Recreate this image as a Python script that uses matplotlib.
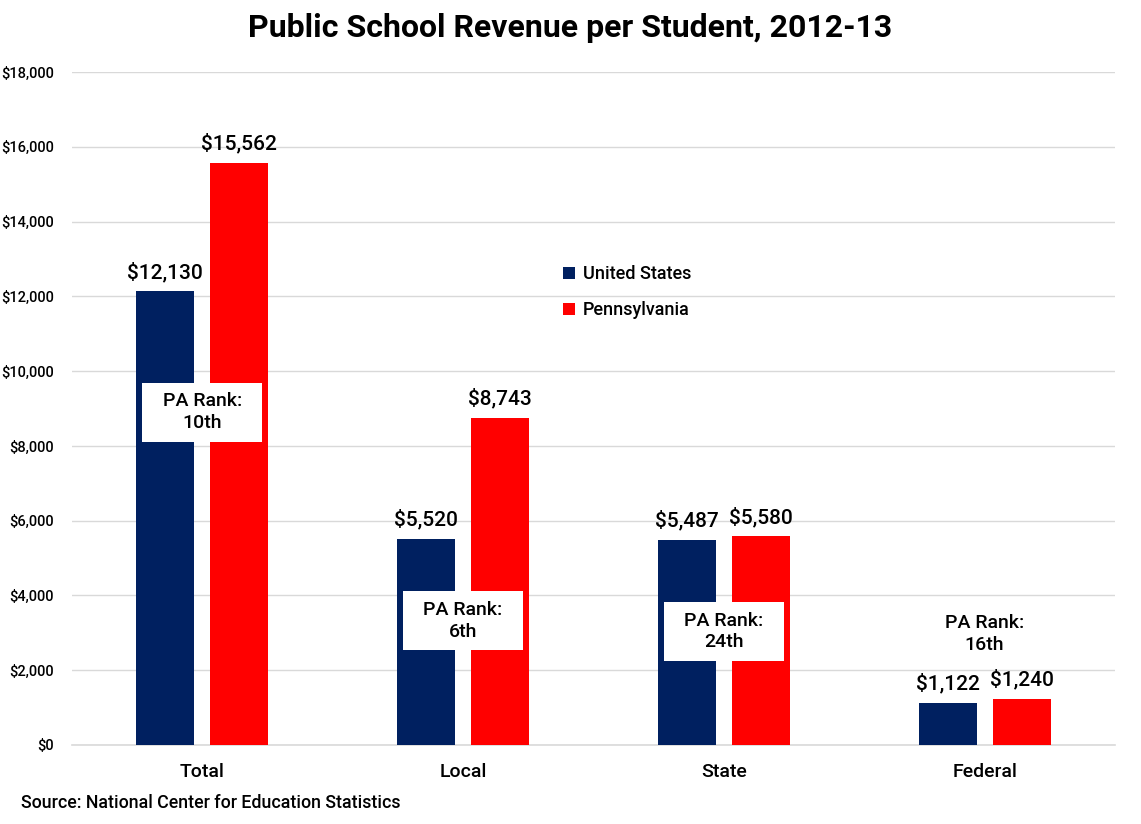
import matplotlib.pyplot as plt
from matplotlib.patches import Rectangle
import numpy as np

categories = ["Total", "Local", "State", "Federal"]
us_values = [12130, 5520, 5487, 1122]
pa_values = [15562, 8743, 5580, 1240]
pa_ranks = ["10th", "6th", "24th", "16th"]
rank_y = [8900, 3320, 3035, 2970]
rank_boxed = [True, True, True, False]
yticks = list(range(0, 18001, 2000))

NAVY = "#002060"
RED = "#ff0000"
BODY = ["Roboto", "DejaVu Sans"]
plt.rcParams["font.weight"] = "medium"

fig = plt.figure(figsize=(11.41, 8.24), dpi=100)
ax = fig.add_axes([0.0631, 0.0959, 0.9141, 0.8167])

x = np.arange(len(categories)) + 0.5
w = 0.222
off = 0.142
ax.bar(x - off, us_values, w, color=NAVY, label="United States", zorder=3)
ax.bar(x + off, pa_values, w, color=RED, label="Pennsylvania", zorder=3)

for xi, u, p in zip(x, us_values, pa_values):
    ax.text(xi - off, u + 250, f"${u:,}", ha="center", va="bottom",
            fontsize=15, family=BODY, zorder=4)
    ax.text(xi + off, p + 250, f"${p:,}", ha="center", va="bottom",
            fontsize=15, family=BODY, zorder=4)

# white boxes behind the rank notes
box_w, box_h = 0.46, 1580
for xi, ry, rank, boxed in zip(x, rank_y, pa_ranks, rank_boxed):
    if boxed:
        ax.add_patch(Rectangle((xi - box_w / 2, ry - box_h / 2), box_w, box_h,
                               fc="white", ec="none", zorder=5))
    ax.text(xi, ry, f"PA Rank:\n{rank}", ha="center", va="center",
            fontsize=14, family=BODY, linespacing=1.25, zorder=6)

ax.set_xlim(0, 4)
ax.set_ylim(0, 18000)
ax.set_yticks(yticks)
ax.set_yticklabels([f"${v:,}" for v in yticks], family=BODY, fontsize=10.5)
ax.set_xticks(x)
ax.set_xticklabels(categories, family=BODY, fontsize=14)
ax.tick_params(axis="both", length=0)
ax.tick_params(axis="y", pad=13)
ax.tick_params(axis="x", pad=13)

ax.grid(axis="y", color="#d9d9d9", linewidth=1, zorder=0)
ax.axhline(0, color="#d9d9d9", linewidth=1.2, zorder=2, clip_on=False)
for s in ax.spines.values():
    s.set_visible(False)

ax.legend(loc="upper left", bbox_to_anchor=(0.455, 0.737), frameon=False,
          prop={"family": BODY, "size": 13}, handlelength=0.65,
          handleheight=0.65, handletextpad=0.45, labelspacing=1.0)

fig.text(0.5, 0.966, "Public School Revenue per Student, 2012-13", ha="center",
         va="center", fontsize=23, fontweight="bold", family=BODY)
fig.text(0.018, 0.026, "Source: National Center for Education Statistics",
         ha="left", va="center", fontsize=12.8, family=BODY)

fig.savefig("out.png", dpi=100)
